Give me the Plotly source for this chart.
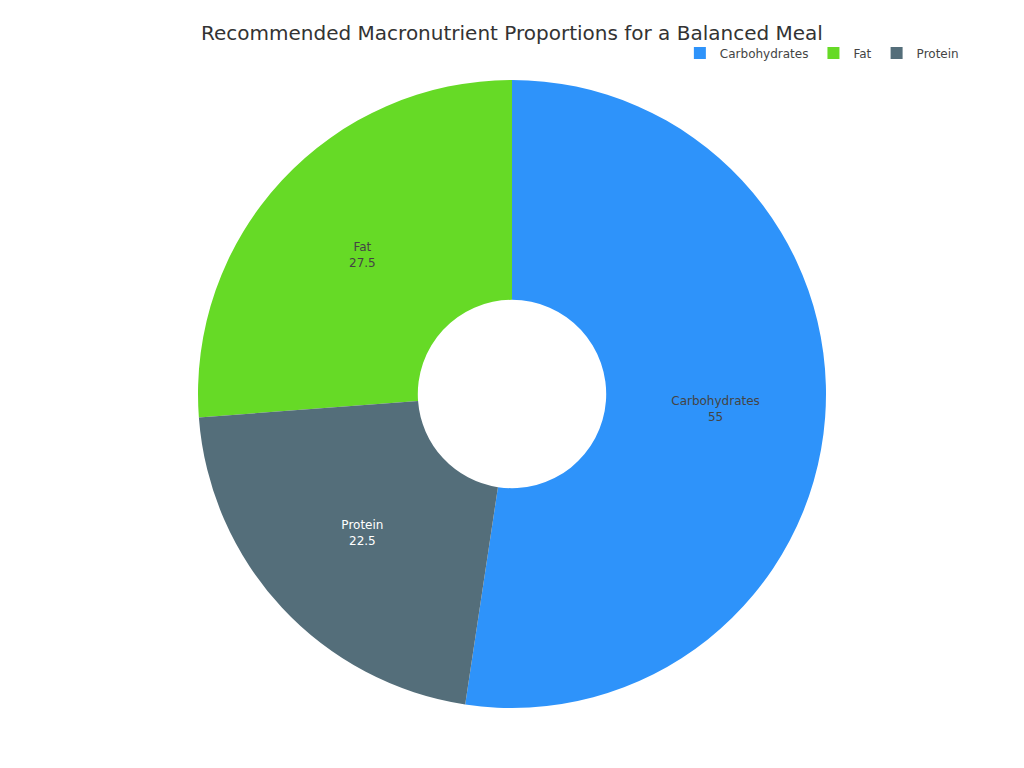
import plotly.graph_objects as go

labels = ['Carbohydrates', 'Fat', 'Protein']
values = [55, 27.5, 22.5]
colors = ['#2E93FA', '#66DA26', '#546E7A']

fig = go.Figure(data=[go.Pie(labels=labels,
                             values=values,
                             hole=0.3,
                             textinfo='label+value',
                             marker=dict(colors=colors),
                             textfont=dict(size=12))])

fig.update_layout(
    title=dict(text='Recommended Macronutrient Proportions for a Balanced Meal',
               x=504 / 1024, xanchor='center', y=1 - 25 / 768, yanchor='middle',
               font=dict(size=20, color='#333333')),
    font=dict(family='DejaVu Sans', color='#444444'),
    legend=dict(orientation='h', x=1.023, xanchor='right', y=1.043, yanchor='middle',
                font=dict(size=12)),
    margin=dict(t=72, b=68, l=72, r=88),
    width=1024, height=768,
    paper_bgcolor='white',
)

fig.write_html('out.html')
